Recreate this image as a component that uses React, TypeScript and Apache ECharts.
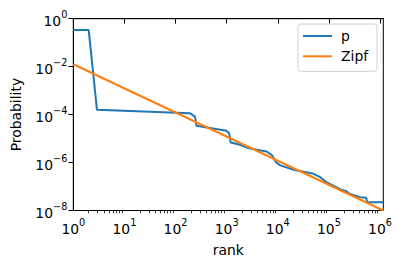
import React, { useEffect, useRef } from 'react';
import * as echarts from 'echarts';

// p series (rank, probability)
const pRank = [1, 2, 2.9, 190, 240, 257, 1000, 1120, 1200, 1820, 2630, 6030, 7590, 9330, 11200, 20400, 50100, 67600, 91200, 166000, 224000, 251000, 407000, 537000, 562000, 1160000];
const pProb = [0.34, 0.34, 1.6e-4, 1.15e-4, 8.3e-5, 3.4e-5, 2.1e-5, 1.66e-5, 6.8e-6, 5.5e-6, 4.0e-6, 2.9e-6, 2.1e-6, 1.0e-6, 7.6e-7, 5.0e-7, 3.4e-7, 2.45e-7, 1.48e-7, 7.8e-8, 6.2e-8, 5.0e-8, 3.6e-8, 3.4e-8, 2.2e-8, 2.2e-8];
// Zipf reference line
const zipfRank = [1, 1160000];
const zipfProb = [0.0126, 1.0e-8];
// axes
const xMinRank = 1;
const xMaxRank = 1160000;
const xMajorExponents = [0, 1, 2, 3, 4, 5, 6];
const yMinProb = 1e-8;
const yMaxProb = 1;
const seriesNames = ['p', 'Zipf'];

const FONT = 'DejaVu Sans';
const FS = 13.9;

export default function App() {
  const ref = useRef<HTMLDivElement>(null);
  useEffect(() => {
    if (!ref.current) return;
    const chart = echarts.init(ref.current, null, { renderer: 'svg' });
    const xMin = Math.log10(xMinRank);
    const xMax = Math.log10(xMaxRank);
    const minorTicks: number[] = [];
    for (const e of xMajorExponents) {
      for (let k = 2; k <= 9; k++) {
        const v = Math.log10(k * Math.pow(10, e));
        if (v <= xMax) minorTicks.push(v);
      }
    }
    const supFmt = (v: number) => {
      const n = Math.round(v);
      const s = n < 0 ? '\u2212' + String(-n) : String(n);
      return '{base|10}{sup|' + s + '}';
    };
    const rich = {
      base: { fontFamily: FONT, fontSize: FS, color: '#000', verticalAlign: 'bottom', lineHeight: 18 },
      sup: { fontFamily: FONT, fontSize: 9.7, color: '#000', verticalAlign: 'top', lineHeight: 10 },
    };
    chart.setOption({
      animation: false,
      backgroundColor: '#fff',
      grid: {
        left: 73.3, right: 18.7, top: 18.7, bottom: 57.5,
        show: true, borderColor: '#000', borderWidth: 1, backgroundColor: 'transparent',
      },
      legend: {
        data: seriesNames,
        orient: 'vertical',
        left: 298, top: 24,
        icon: 'rect', itemWidth: 29, itemHeight: 2, itemGap: 4.3,
        padding: [4, 9, 7, 5],
        backgroundColor: '#fff', borderColor: '#d0d0d0', borderWidth: 1, borderRadius: 3,
        textStyle: { fontFamily: FONT, fontSize: FS, color: '#000', lineHeight: 16, padding: [0, 0, 0, 4] },
      },
      xAxis: [
        {
          type: 'value', min: xMin, max: xMax,
          name: 'rank', nameLocation: 'middle', nameGap: 32,
          nameTextStyle: { fontFamily: FONT, fontSize: FS, color: '#000' },
          axisLine: { show: true, lineStyle: { color: '#000', width: 1 } },
          axisTick: { show: true, length: 4.9, lineStyle: { color: '#000', width: 1 }, customValues: xMajorExponents },
          axisLabel: { margin: 7, formatter: supFmt, rich, customValues: xMajorExponents },
          splitLine: { show: false },
        },
        {
          type: 'value', min: xMin, max: xMax, position: 'bottom',
          axisLine: { show: false },
          axisTick: { show: true, length: 2.8, lineStyle: { color: '#000', width: 0.8 }, customValues: minorTicks },
          axisLabel: { show: false },
          splitLine: { show: false },
        },
      ],
      yAxis: {
        type: 'value', min: Math.log10(yMinProb), max: Math.log10(yMaxProb), interval: 2,
        name: 'Probability', nameLocation: 'middle', nameGap: 50, nameRotate: 90,
        nameTextStyle: { fontFamily: FONT, fontSize: FS, color: '#000' },
        axisLine: { show: true, lineStyle: { color: '#000', width: 1 } },
        axisTick: { show: true, length: 4.9, lineStyle: { color: '#000', width: 1 } },
        axisLabel: { margin: 6, formatter: supFmt, rich },
        splitLine: { show: false },
      },
      series: [
        {
          name: 'p', type: 'line', xAxisIndex: 0, showSymbol: false, z: 2,
          lineStyle: { color: '#1f77b4', width: 2 }, itemStyle: { color: '#1f77b4' },
          data: pRank.map((r, i) => [Math.log10(r), Math.log10(pProb[i])]),
        },
        {
          name: 'Zipf', type: 'line', xAxisIndex: 0, showSymbol: false, z: 3,
          lineStyle: { color: '#ff7f0e', width: 2 }, itemStyle: { color: '#ff7f0e' },
          data: zipfRank.map((r, i) => [Math.log10(r), Math.log10(zipfProb[i])]),
        },
      ],
    });
    return () => chart.dispose();
  }, []);
  return <div ref={ref} style={{ width: 402, height: 268, position: 'absolute', left: 0, top: 0 }} />;
}
